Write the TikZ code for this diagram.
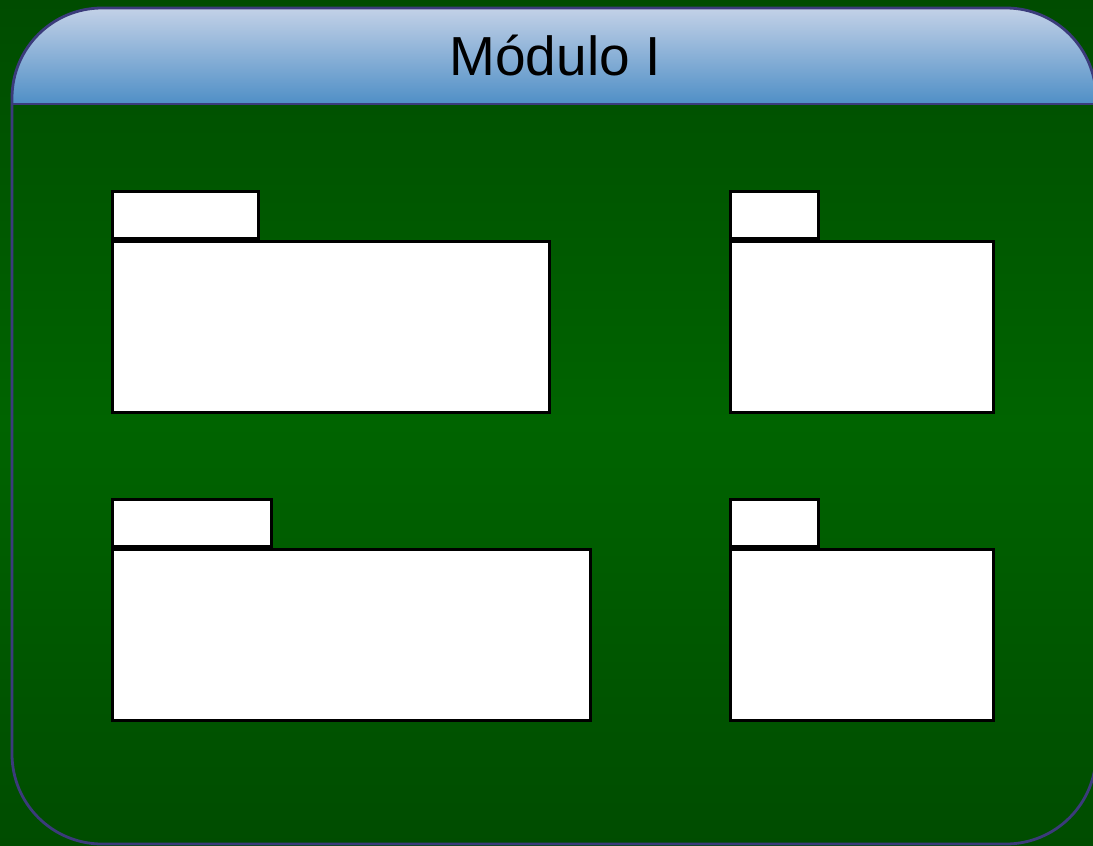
\documentclass[tikz,border=0pt]{standalone}
\usepackage{fontspec}
\setmainfont{Liberation Sans}
\usetikzlibrary{positioning}
\definecolor{bgdark}{HTML}{004C00}
\definecolor{bgmid}{HTML}{006400}
\definecolor{hdtop}{HTML}{C3D1E7}
\definecolor{hdbot}{HTML}{4F8FC6}
\definecolor{frameline}{HTML}{3B3B7B}
\tikzset{
  pkgbody/.style={draw, fill=white, line width=2.8pt, inner sep=0pt, anchor=north west},
  pkgtab/.style={draw, fill=white, line width=2.8pt, inner sep=0pt, anchor=south west, minimum height=47pt},
  frame/.style={draw=frameline, line width=2.8pt, rounded corners=90pt},
  title/.style={font=\fontsize{55}{60}\selectfont, text=black}
}

\begin{document}
\begin{tikzpicture}[x=1pt,y=-1pt]
  \useasboundingbox (0,0) rectangle (1093,846);
  \shade[top color=bgdark, bottom color=bgdark, middle color=bgmid] (0,0) rectangle (1093,846);
  % module frame with header
  \begin{scope}
    \clip[rounded corners=90pt] (12,8) rectangle (1096,844);
    \shade[top color=hdtop, bottom color=hdbot] (12,8) rectangle (1096,104);
  \end{scope}
  \draw[frame] (12,8) rectangle (1096,844);
  \draw[draw=frameline, line width=2.8pt] (12,104) -- (1096,104);
  \node[title] (modtitle) at (555,56) {Módulo I};
  % packages
  \node[pkgbody, minimum width=437pt, minimum height=171pt] (pkgA) at (111,240) {};
  \node[pkgtab, minimum width=146pt] (pkgAtab) at (pkgA.north west) {};
  \node[pkgbody, minimum width=263pt, minimum height=171pt] (pkgB) at (729,240) {};
  \node[pkgtab, minimum width=88pt] (pkgBtab) at (pkgB.north west) {};
  \node[pkgbody, minimum width=478pt, minimum height=171pt] (pkgC) at (111,548) {};
  \node[pkgtab, minimum width=159pt] (pkgCtab) at (pkgC.north west) {};
  \node[pkgbody, minimum width=263pt, minimum height=171pt] (pkgD) at (729,548) {};
  \node[pkgtab, minimum width=88pt] (pkgDtab) at (pkgD.north west) {};
\end{tikzpicture}
\end{document}
